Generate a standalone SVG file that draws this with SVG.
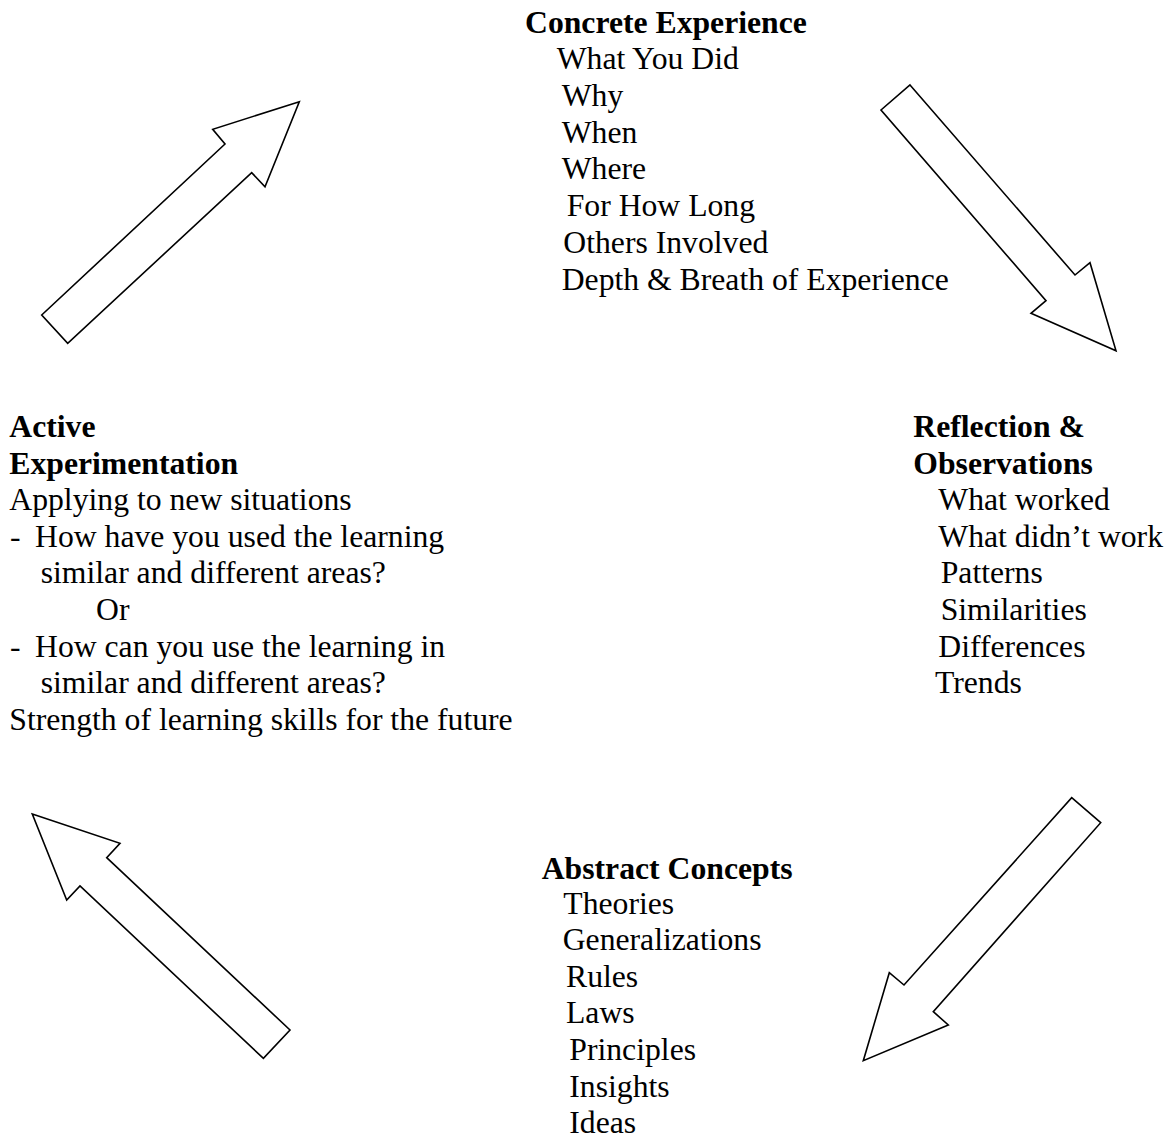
<svg xmlns="http://www.w3.org/2000/svg" width="1168" height="1139" viewBox="0 0 1168 1139">
<style>
  text { font-family: "Liberation Serif", "Times New Roman", serif; font-size: 31.7px; fill: #000; }
  .h { font-weight: bold; }
  .arrow { fill: #fff; stroke: #000; stroke-width: 1.6; stroke-linejoin: miter; }
</style>
<rect width="1168" height="1139" fill="#fff"/>
<g id="connectors">
  <polygon class="arrow" points="41.7,315 225,144 212.7,129.3 299.3,101.7 265,186.7 251.7,172.7 67.7,343.3"/>
  <polygon class="arrow" points="910,85 1075,275 1090,262.7 1116,350.7 1031,313.3 1046,300.7 881,110"/>
  <polygon class="arrow" points="1071.7,797.7 1100.7,822.7 933.3,1011.7 948.3,1025 863.3,1060.7 889.3,972.7 904,985"/>
  <polygon class="arrow" points="32.3,814 120,843.3 106.7,857.7 290,1030 263.4,1058.4 80,886 66.7,900"/>
</g>
<g id="concrete-experience">
  <text class="h" x="525" y="33">Concrete Experience</text>
  <text x="556.7" y="69">What You Did</text>
  <text x="561.7" y="106">Why</text>
  <text x="561.7" y="142.7">When</text>
  <text x="561.7" y="179.3">Where</text>
  <text x="566.7" y="216">For How Long</text>
  <text x="563.3" y="253">Others Involved</text>
  <text x="561.7" y="289.5">Depth &amp; Breath of Experience</text>
</g>
<g id="reflection-observations">
  <text class="h" x="913.3" y="437.3">Reflection &amp;</text>
  <text class="h" x="913.3" y="474">Observations</text>
  <text x="938.3" y="510">What worked</text>
  <text x="938.3" y="546.7">What didn’t work</text>
  <text x="940.7" y="583.3">Patterns</text>
  <text x="940.7" y="620">Similarities</text>
  <text x="938.3" y="656.7">Differences</text>
  <text x="935" y="693.3">Trends</text>
</g>
<g id="abstract-concepts">
  <text class="h" x="541.7" y="879">Abstract Concepts</text>
  <text x="563.3" y="914">Theories</text>
  <text x="562.7" y="950">Generalizations</text>
  <text x="566" y="986.7">Rules</text>
  <text x="566" y="1023.3">Laws</text>
  <text x="569.3" y="1060">Principles</text>
  <text x="569.3" y="1096.7">Insights</text>
  <text x="569.3" y="1133.3">Ideas</text>
</g>
<g id="active-experimentation">
  <text class="h" x="9.3" y="437.3">Active</text>
  <text class="h" x="9.3" y="474">Experimentation</text>
  <text x="9.3" y="510">Applying to new situations</text>
  <text x="10" y="546.7">-<tspan x="35">How have you used the learning</tspan></text>
  <text x="40.7" y="583.3">similar and different areas?</text>
  <text x="96" y="620">Or</text>
  <text x="10" y="656.7">-<tspan x="35">How can you use the learning in</tspan></text>
  <text x="40.7" y="693.3">similar and different areas?</text>
  <text x="9.3" y="730">Strength of learning skills for the future</text>
</g>
</svg>
